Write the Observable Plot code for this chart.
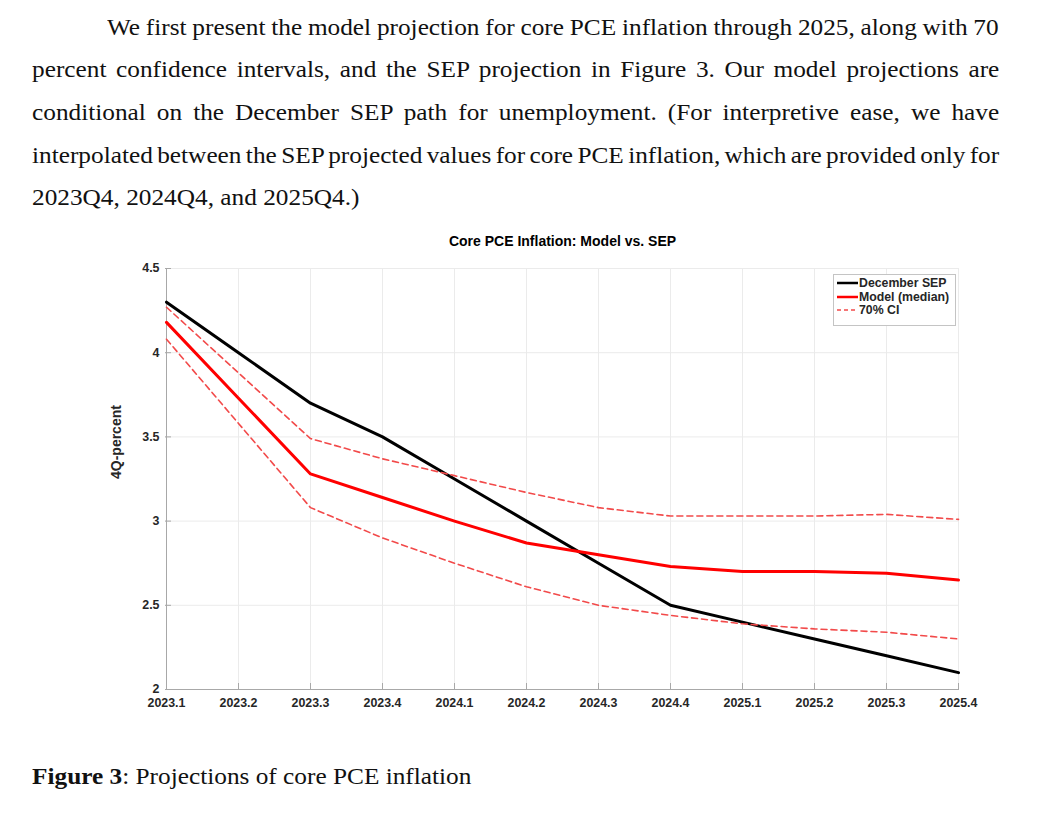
<!DOCTYPE html>
<html><head><meta charset="utf-8">
<script src="https://cdn.jsdelivr.net/npm/d3@7"></script>
<script src="https://cdn.jsdelivr.net/npm/@observablehq/plot@0.6"></script>
<style>
html,body{margin:0;padding:0;background:#fff;}
body{width:1039px;height:824px;position:relative;overflow:hidden;}
.pline{position:absolute;font-family:"Liberation Serif","Times New Roman",Times,serif;font-size:23px;line-height:23px;color:#111;white-space:nowrap;transform-origin:0 0;}
#chart{position:absolute;left:0;top:225px;}
#legend{position:absolute;left:833px;top:274px;width:123px;height:52px;border:1px solid #c4c4c4;background:#fff;box-sizing:border-box;font-family:"Liberation Sans",Arial,sans-serif;font-weight:bold;font-size:12.3px;color:#262626;}
.lrow{position:absolute;left:2px;height:14px;line-height:14px;white-space:nowrap;}
.lrow svg{position:absolute;left:0;top:0;}
.lrow span{position:absolute;left:23px;top:0;}
</style></head><body>
<div id="chart"></div>
<div id="legend"></div>
<script>
// ---- text content ----
const paragraphLines = [
  "We first present the model projection for core PCE inflation through 2025, along with 70",
  "percent confidence intervals, and the SEP projection in Figure 3. Our model projections are",
  "conditional on the December SEP path for unemployment. (For interpretive ease, we have",
  "interpolated between the SEP projected values for core PCE inflation, which are provided only for",
  "2023Q4, 2024Q4, and 2025Q4.)"
];
const captionBold = "Figure 3";
const captionRest = ": Projections of core PCE inflation";
const chartTitle = "Core PCE Inflation: Model vs. SEP";
const yLabel = "4Q-percent";
const seriesNames = ["December SEP", "Model (median)", "70% CI"];

// ---- data ----
const quarters = ["2023.1","2023.2","2023.3","2023.4","2024.1","2024.2","2024.3","2024.4","2025.1","2025.2","2025.3","2025.4"];
const sepPath     = [4.30, 4.00, 3.70, 3.50, 3.25, 3.00, 2.75, 2.50, 2.40, 2.30, 2.20, 2.10];
const modelMedian = [4.18, 3.73, 3.28, 3.14, 3.00, 2.87, 2.80, 2.73, 2.70, 2.70, 2.69, 2.65];
const ciUpper     = [4.27, 3.88, 3.49, 3.37, 3.27, 3.17, 3.08, 3.03, 3.03, 3.03, 3.04, 3.01];
const ciLower     = [4.08, 3.58, 3.08, 2.90, 2.75, 2.61, 2.50, 2.44, 2.39, 2.36, 2.34, 2.30];
const yTicks = [2, 2.5, 3, 3.5, 4, 4.5];

// ---- paragraph ----
const SX = 1.1;
function addLine(html, left, baseline, target) {
  const d = document.createElement("div");
  d.className = "pline";
  d.innerHTML = html;
  d.style.left = left + "px";
  d.style.top = (baseline - 19.26) + "px";
  d.style.transform = `scaleX(${SX})`;
  document.body.appendChild(d);
  if (target) {
    const nat = d.offsetWidth;
    const spaces = (d.textContent.match(/ /g) || []).length;
    if (spaces) d.style.wordSpacing = ((target / SX - nat) / spaces) + "px";
  }
}
paragraphLines.forEach((t, i) => {
  const left = i === 0 ? 107 : 32;
  addLine(t, left, 35 + i * 42.6, i < 4 ? 999 - left : null);
});
addLine(`<b>${captionBold}</b>${captionRest}`, 32, 784, null);

// ---- chart ----
const table = quarters.map((q, i) => ({q, sep: sepPath[i], med: modelMedian[i], hi: ciUpper[i], lo: ciLower[i]}));
const W = 1039, H = 495, mT = 43, mB = 31, mL = 165, mR = 80;
const fw = W - mL - mR, fh = H - mT - mB;
const axisColor = "#a8a8a8", gridColor = "#ebebeb";
const ciColor = "#f24a4a";
const dash = "6,4";

const plot = Plot.plot({
  width: W, height: H, marginTop: mT, marginBottom: mB, marginLeft: mL, marginRight: mR,
  x: {type: "point", domain: quarters, padding: 0},
  y: {type: "linear", domain: [2, 4.5]},
  style: {background: "#fff", fontFamily: "'Liberation Sans', Arial, sans-serif", fontSize: "12.4px", fontWeight: "bold", color: "#262626", overflow: "visible"},
  marks: [
    Plot.gridX(quarters, {stroke: gridColor, strokeOpacity: 1}),
    Plot.gridY(yTicks, {stroke: gridColor, strokeOpacity: 1}),
    Plot.ruleX([quarters[0]], {stroke: axisColor}),
    Plot.ruleY([2], {stroke: axisColor}),
    Plot.tickX(quarters, {x: d => d, insetTop: fh - 6, stroke: axisColor}),
    Plot.tickY(yTicks, {y: d => d, insetRight: fw - 6, stroke: axisColor}),
    Plot.axisX(quarters, {tickSize: 0, tickPadding: 9, label: null}),
    Plot.axisY(yTicks, {tickSize: 0, tickPadding: 6, label: null, tickFormat: d => String(d)}),
    Plot.line(table, {x: "q", y: "sep", stroke: "#000", strokeWidth: 3}),
    Plot.line(table, {x: "q", y: "med", stroke: "#ff0000", strokeWidth: 3}),
    Plot.line(table, {x: "q", y: "hi", stroke: ciColor, strokeWidth: 1.6, strokeDasharray: dash}),
    Plot.line(table, {x: "q", y: "lo", stroke: ciColor, strokeWidth: 1.6, strokeDasharray: dash}),
    Plot.text([chartTitle], {frameAnchor: "top", dy: -32, fontSize: 14, fontWeight: "bold", fill: "#000"}),
    Plot.text([yLabel], {frameAnchor: "left", dx: -49, rotate: -90, fontSize: 14, fontWeight: "bold", fill: "#262626"})
  ]
});
document.getElementById("chart").appendChild(plot);

// ---- legend ----
const legend = document.getElementById("legend");
const legendStyles = [
  {stroke: "#000", width: 2.5, dash: null},
  {stroke: "#ff0000", width: 2.5, dash: null},
  {stroke: ciColor, width: 1.5, dash: "4,3"}
];
seriesNames.forEach((name, i) => {
  const r = document.createElement("div");
  r.className = "lrow";
  r.style.top = (1 + i * 13.5) + "px";
  const s = legendStyles[i];
  r.innerHTML = `<svg width="22" height="14"><line x1="1" x2="22" y1="7" y2="7" stroke="${s.stroke}" stroke-width="${s.width}" ${s.dash ? `stroke-dasharray="${s.dash}"` : ""}/></svg><span>${name}</span>`;
  legend.appendChild(r);
});
</script>
</body></html>
